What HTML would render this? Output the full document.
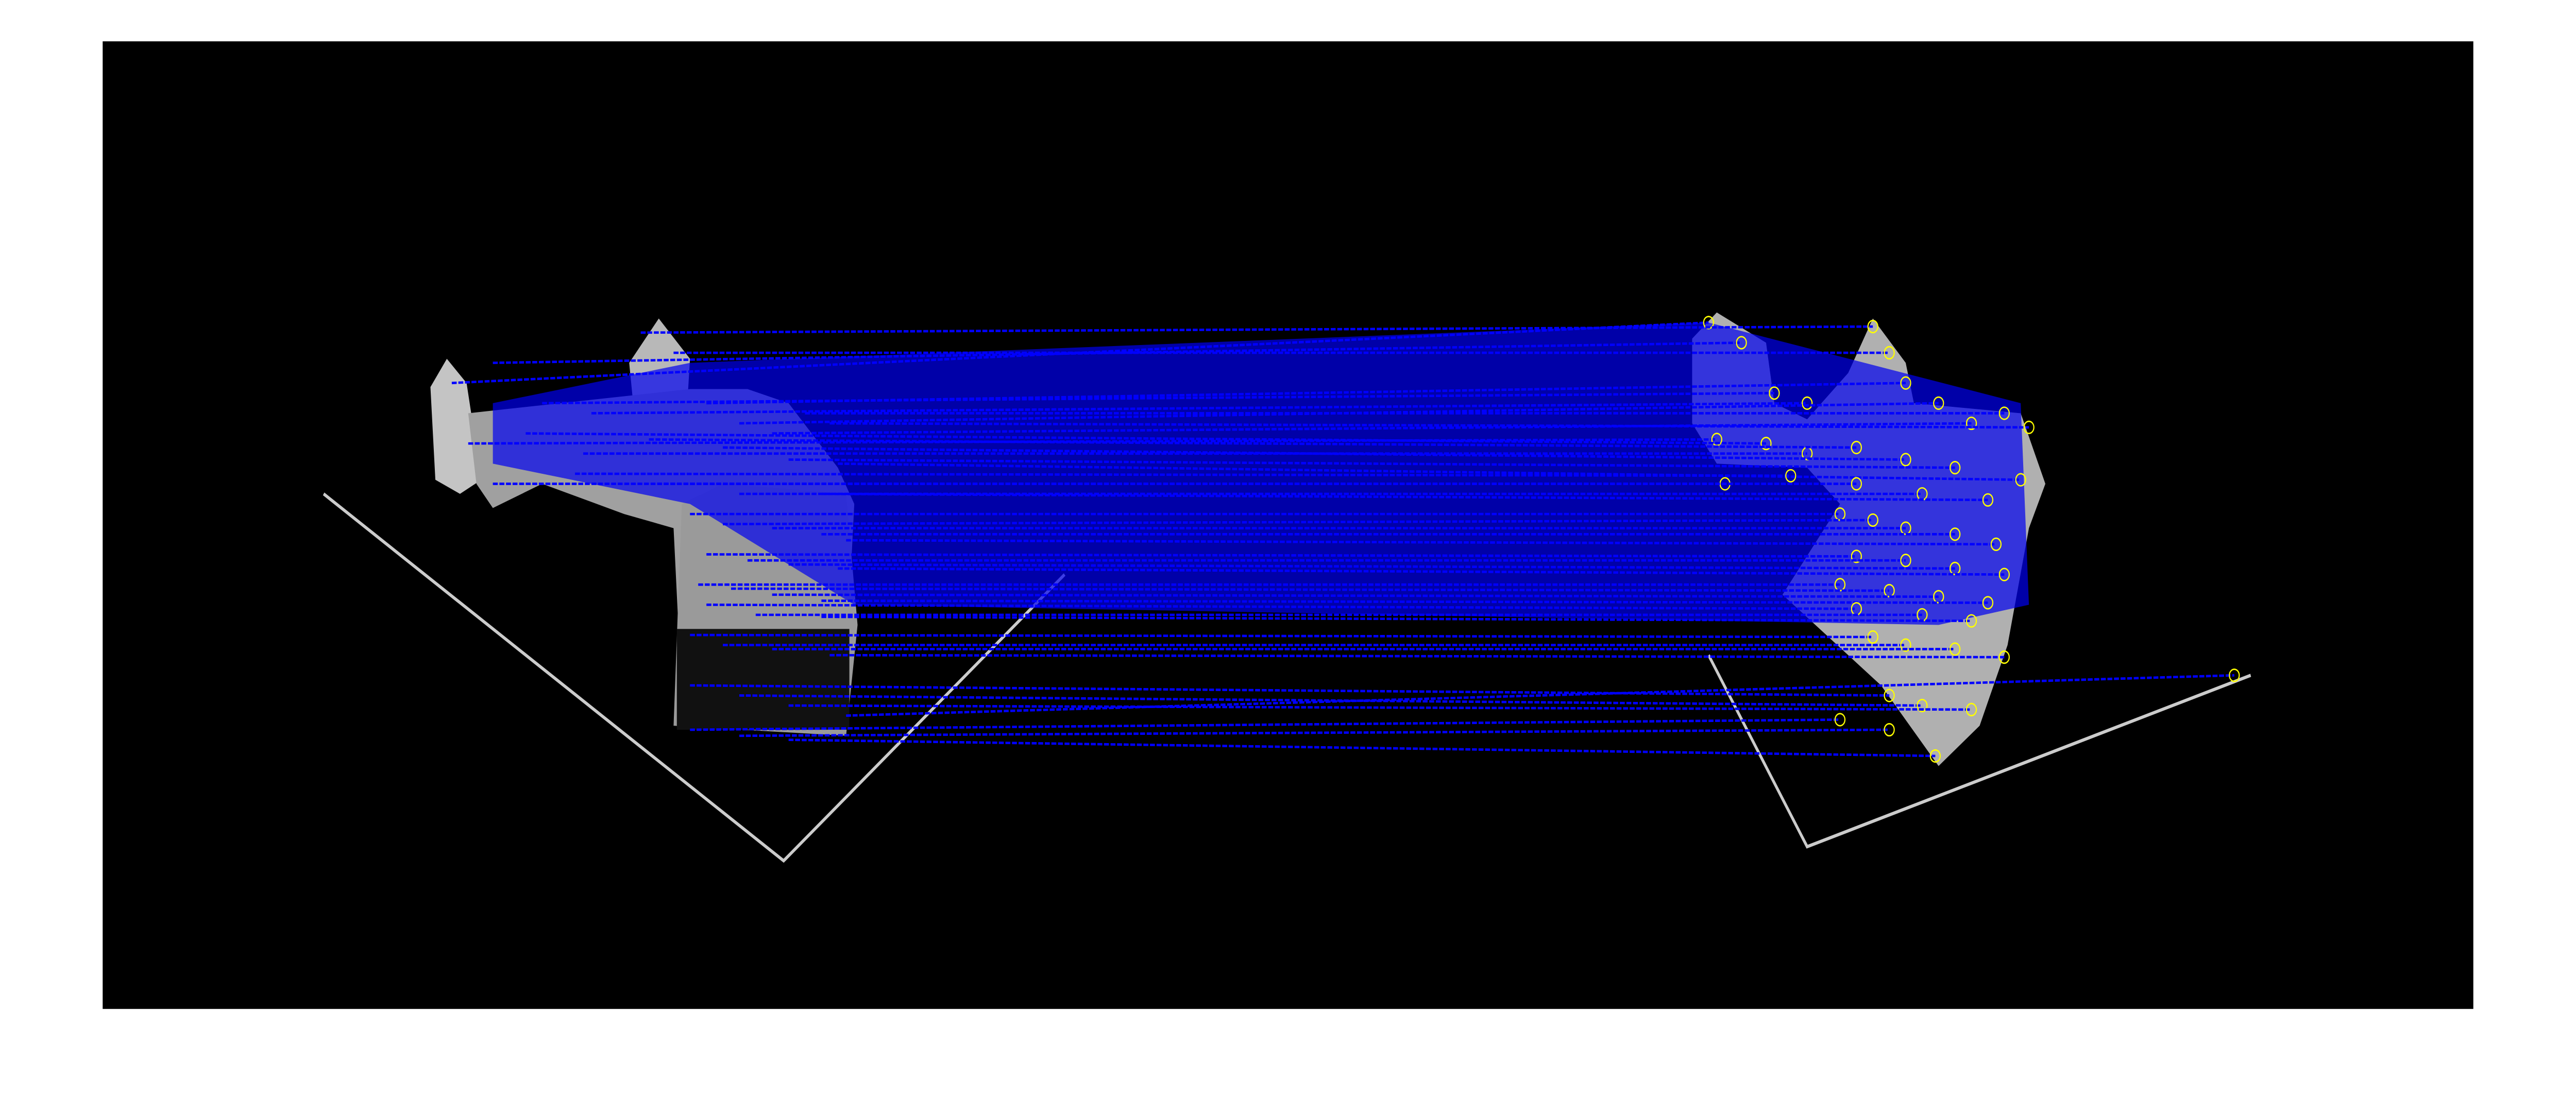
<!DOCTYPE html>
<html><head><meta charset="utf-8"><style>html,body{margin:0;padding:0;background:#fff;width:100vw;height:100vh;overflow:hidden}svg{display:block;width:100vw;height:100vh}</style></head>
<body>
<svg id="fig" viewBox="0 0 1568 554.6" preserveAspectRatio="none" xmlns="http://www.w3.org/2000/svg">
<rect x="62.5" y="20.5" width="1443" height="480" fill="#000"/>
<g fill="#b8b8b8">
<polyline points="197,245 477,427 648,285" fill="none" stroke="#ccc" stroke-width="1.6"/>
<polygon points="262,192 272,178 284,190 293,238 280,245 265,238" fill="#c4c4c4"/>
<polygon points="383,180 401,158 420,178 418,205 386,205"/>
<polygon points="285,205 420,193 455,193 480,200 510,232 520,250 515,330 415,345 410,262 380,255 330,240 300,252 290,240" fill="#a0a0a0"/>
<polygon points="415,250 440,240 515,245 522,310 515,365 410,360" fill="#9a9a9a"/>
<rect x="412" y="312" width="105" height="50" fill="#111"/>
</g>
<g fill="#b0b0b0">
<polyline points="1040,325 1100,420 1370,335" fill="none" stroke="#ccc" stroke-width="1.6"/>
<polygon points="1030,168 1045,155 1075,170 1080,200 1100,208 1125,185 1140,158 1160,180 1165,200 1230,205 1245,240 1235,262 1222,320 1205,360 1180,380 1145,340 1085,295 1120,250 1100,232 1045,230 1030,210"/>
</g>
<g id="matches"></g>
</svg>
<script>
const leftX=[275,300,330,360,390,410,430,450,470,490,505,285,320,355,395,440,480,510,300,350,400,450,500,420,440,470,500,515,430,455,480,510,425,445,470,500,430,460,500,420,440,470,505,420,450,480,515,420,450,480];
const leftY=[190,180,200,205,165,175,200,210,215,205,210,220,215,225,218,222,228,230,240,235,240,245,245,255,260,262,265,268,275,278,280,282,290,292,295,298,300,305,306,315,320,322,325,340,345,350,355,362,365,367];
const rightX=[1040,1060,1080,1100,1140,1150,1160,1180,1200,1220,1235,1045,1075,1100,1130,1160,1190,1230,1050,1090,1130,1170,1210,1120,1140,1160,1190,1215,1130,1160,1190,1220,1120,1150,1180,1210,1130,1170,1200,1140,1160,1190,1220,1150,1170,1200,1360,1120,1150,1178];
const rightY=[160,170,195,200,162,175,190,200,210,205,212,218,220,225,222,228,232,238,240,236,240,245,248,255,258,262,265,270,276,278,282,285,290,293,296,299,302,305,308,316,320,322,326,345,350,352,335,357,362,375];
const g=document.getElementById('matches');
const NS='http://www.w3.org/2000/svg';
const band=document.createElementNS(NS,'polygon');


band.setAttribute('points','300,200 420,180 1040,160 1230,200 1235,300 1180,310 520,300 420,250 300,230');
band.setAttribute('fill','#0000f0');band.setAttribute('opacity','0.7');
g.appendChild(band);
for(let i=0;i<leftX.length;i++){
  const l=document.createElementNS(NS,'line');
  
  
  l.setAttribute('x1',leftX[i]);l.setAttribute('y1',leftY[i]);
  l.setAttribute('x2',rightX[i]);l.setAttribute('y2',rightY[i]);
  l.setAttribute('stroke','#0000ff');l.setAttribute('stroke-width','1.2');l.setAttribute('stroke-dasharray','3 1');
  g.appendChild(l);
  const c=document.createElementNS(NS,'circle');
  
  
  c.setAttribute('cx',rightX[i]);c.setAttribute('cy',rightY[i]);c.setAttribute('r','3');
  c.setAttribute('fill','none');c.setAttribute('stroke','#ffff00');c.setAttribute('stroke-width','0.7');
  g.appendChild(c);
}
</script>
</body></html>
